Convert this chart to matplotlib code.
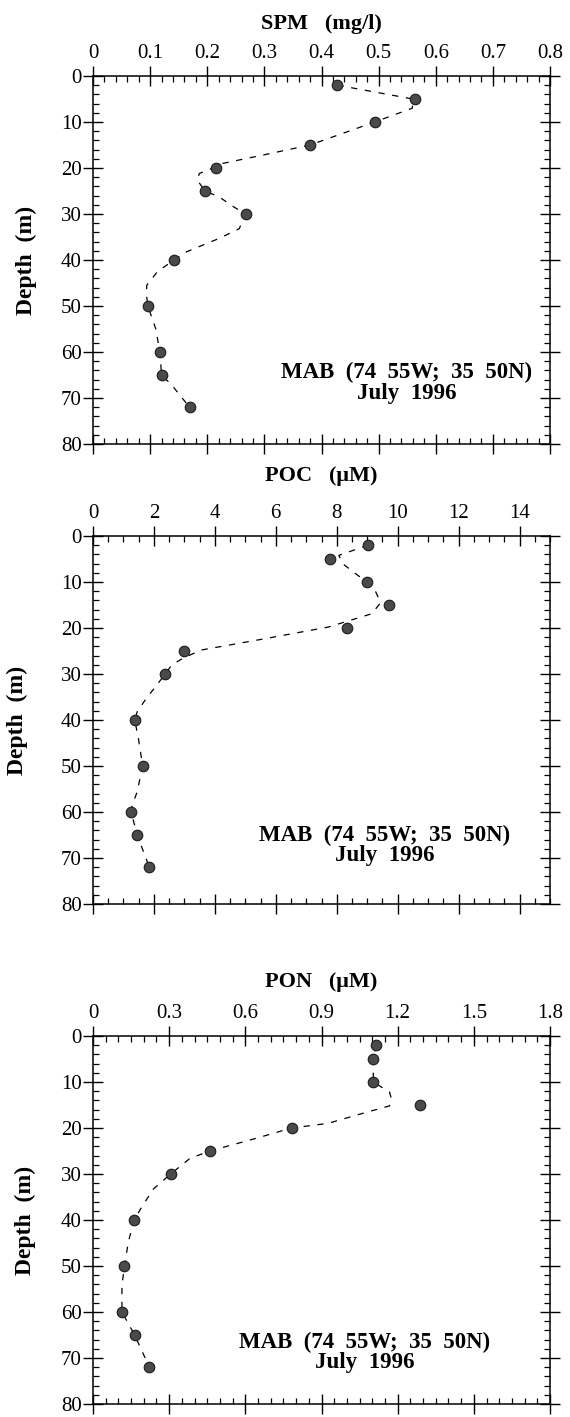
import numpy as np
import matplotlib
matplotlib.use("Agg")
import matplotlib.pyplot as plt
from matplotlib.ticker import MultipleLocator

# ---------------------------------------------------------
# DATA
# ---------------------------------------------------------
depth = [2, 5, 10, 15, 20, 25, 30, 40, 50, 60, 65, 72]

spm = [0.428, 0.564, 0.493, 0.380, 0.215, 0.196, 0.267, 0.142, 0.096, 0.117, 0.120, 0.169]
poc = [9.03, 7.77, 8.99, 9.72, 8.35, 2.98, 2.37, 1.37, 1.63, 1.25, 1.45, 1.85]
pon = [1.114, 1.104, 1.104, 1.287, 0.782, 0.460, 0.306, 0.162, 0.124, 0.114, 0.164, 0.222]

# smoothed dashed profiles
spm_fit_depth = [2, 5, 7, 10, 15, 17.2, 19, 20, 21.2, 22.7, 25, 26.3, 28.5, 30, 33.2, 35.3,
                 38.2, 40, 42.5, 45.5, 48, 50, 55, 60, 65, 67.2, 72]
spm_fit = [0.428, 0.56, 0.559, 0.493, 0.380, 0.297, 0.227, 0.21, 0.186, 0.183, 0.196, 0.221,
           0.247, 0.267, 0.256, 0.221, 0.164, 0.142, 0.113, 0.094, 0.094, 0.096, 0.110, 0.117,
           0.120, 0.138, 0.169]

poc_fit_depth = [2, 4.2, 6, 9.6, 12, 14.5, 16.9, 19.8, 22.7, 24.8, 26.6, 28, 30, 33.2, 35.3,
                 38.2, 40, 44, 50, 55.6, 58.7, 60, 65, 72]
poc_fit = [9.03, 8.07, 8.19, 8.9, 9.27, 9.44, 9.15, 7.72, 5.33, 3.54, 2.95, 2.59, 2.37, 2.0,
           1.75, 1.45, 1.37, 1.49, 1.63, 1.45, 1.28, 1.25, 1.45, 1.85]

pon_fit_depth = [2, 5, 10, 12.2, 13.6, 15.2, 16.5, 19, 20, 22.3, 25, 26.6, 30, 33.2, 36.8,
                 40, 44.8, 50, 54.2, 60, 65, 72]
pon_fit = [1.114, 1.104, 1.104, 1.168, 1.175, 1.168, 1.082, 0.925, 0.782, 0.639, 0.460, 0.382,
           0.306, 0.239, 0.196, 0.162, 0.139, 0.124, 0.114, 0.114, 0.164, 0.222]

titles = ["SPM   (mg/l)", "POC   (\u03bcM)", "PON   (\u03bcM)"]
spm_ticks = ["0", "0.1", "0.2", "0.3", "0.4", "0.5", "0.6", "0.7", "0.8"]
poc_ticks = ["0", "2", "4", "6", "8", "10", "12", "14"]
pon_ticks = ["0", "0.3", "0.6", "0.9", "1.2", "1.5", "1.8"]
station = "MAB  (74  55W;  35  50N)\nJuly  1996"

# ---------------------------------------------------------
# PLOT
# ---------------------------------------------------------
plt.rcParams["font.family"] = ["Liberation Serif", "DejaVu Serif"]
plt.rcParams["lines.scale_dashes"] = False

fig = plt.figure(figsize=(5.7, 14.17), dpi=100)

W, H = 570.0, 1417.0
left, width, height = 93 / W, 457 / W, 368 / H
tops = [76, 536, 1036]

panels = [
    (spm, spm_fit_depth, spm_fit, 0.8, 0.1, 0.02, spm_ticks, 1.141, -0.145, (0.687, 0.166)),
    (poc, poc_fit_depth, poc_fit, 15, 2, 0.5, poc_ticks, 1.163, -0.165, (0.639, 0.160)),
    (pon, pon_fit_depth, pon_fit, 1.8, 0.3, 0.05, pon_ticks, 1.147, -0.148, (0.595, 0.141)),
]

for i, (vals, fd, fv, xmax, major, minor, labels, ty, yx, ann) in enumerate(panels):
    ax = fig.add_axes([left, 1 - (tops[i] + 368) / H, width, height])

    ax.plot(fv, fd, color="black", lw=0.9, dashes=(4.5, 5.5), zorder=2)
    ax.plot(vals, depth, "o", ms=7.6, mfc="#4a4a4a", mec="#1a1a1a", mew=0.8, zorder=3)

    ax.set_xlim(0, xmax)
    ax.set_ylim(80, 0)
    ticks = np.arange(len(labels)) * major
    ax.set_xticks(ticks)
    ax.set_xticklabels(labels)
    ax.xaxis.set_minor_locator(MultipleLocator(minor))
    ax.set_yticks(np.arange(0, 81, 10))
    ax.yaxis.set_minor_locator(MultipleLocator(2))

    ax.tick_params(which="major", direction="inout", length=14.4, width=1.0,
                   top=True, bottom=True, left=True, right=True,
                   labeltop=True, labelbottom=False, labelsize=15)
    ax.tick_params(which="minor", direction="in", length=4, width=0.9,
                   top=True, bottom=True, left=True, right=True)
    ax.tick_params(axis="x", pad=2)
    ax.tick_params(axis="y", pad=1)
    for s in ax.spines.values():
        s.set_linewidth(1.1)

    ax.text(0.5, ty, titles[i], transform=ax.transAxes, ha="center", va="center",
            fontsize=16, fontweight="bold")
    ax.text(yx, 0.5, "Depth  (m)", transform=ax.transAxes, rotation=90,
            ha="center", va="center", fontsize=17, fontweight="bold")
    ax.text(ann[0], ann[1], station, transform=ax.transAxes, ha="center", va="center",
            fontsize=16.5, fontweight="bold", linespacing=0.95)

fig.savefig("out.png", dpi=100)
